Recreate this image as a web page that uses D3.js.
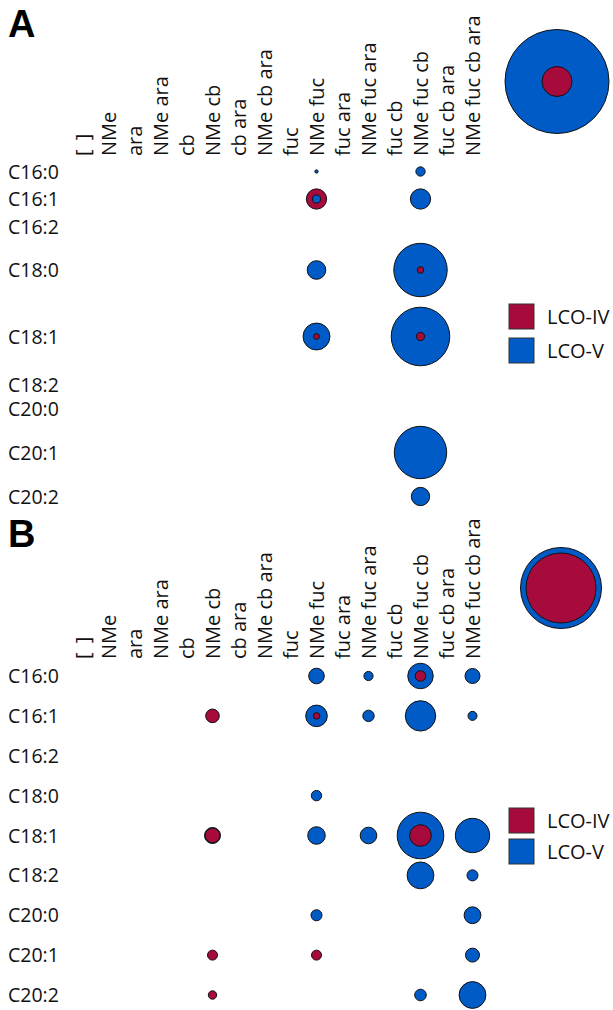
<!DOCTYPE html>
<html><head><meta charset="utf-8">
<script src="https://cdn.jsdelivr.net/npm/d3@7"></script>
<style>
html,body{margin:0;padding:0;background:#fff;}
text{font-family:"Open Sans",sans-serif;fill:#111;}
</style></head>
<body>
<svg id="chart" width="613" height="1010"></svg>
<script>
// ---- data ----
const columns = ["[ ]","NMe","ara","NMe ara","cb","NMe cb","cb ara","NMe cb ara","fuc","NMe fuc","fuc ara","NMe fuc ara","fuc cb","NMe fuc cb","fuc cb ara","NMe fuc cb ara"];
const rows = ["C16:0","C16:1","C16:2","C18:0","C18:1","C18:2","C20:0","C20:1","C20:2"];
const seriesNames = ["LCO-IV","LCO-V"];

// Panel A (relative abundance, bubble area)
const aLcoIV = [
  {row:"C16:1", col:"NMe fuc", v:3.8},
  {row:"C18:0", col:"NMe fuc cb", v:0.4},
  {row:"C18:1", col:"NMe fuc", v:0.3},
  {row:"C18:1", col:"NMe fuc cb", v:0.6}
];
const aLcoV = [
  {row:"C16:0", col:"NMe fuc", v:0.1},
  {row:"C16:0", col:"NMe fuc cb", v:0.8},
  {row:"C16:1", col:"NMe fuc", v:0.6},
  {row:"C16:1", col:"NMe fuc cb", v:3.8},
  {row:"C18:0", col:"NMe fuc", v:3.2},
  {row:"C18:0", col:"NMe fuc cb", v:26.4},
  {row:"C18:1", col:"NMe fuc", v:6.7},
  {row:"C18:1", col:"NMe fuc cb", v:31.7},
  {row:"C20:1", col:"NMe fuc cb", v:25.4},
  {row:"C20:2", col:"NMe fuc cb", v:3.1}
];
const aKey = {LCOIV:8.3, LCOV:100};

// Panel B
const bLcoIV = [
  {row:"C16:0", col:"NMe fuc cb", v:1.04},
  {row:"C16:1", col:"NMe cb", v:1.71},
  {row:"C16:1", col:"NMe fuc", v:0.40},
  {row:"C18:1", col:"NMe cb", v:1.97},
  {row:"C18:1", col:"NMe fuc cb", v:4.31},
  {row:"C20:1", col:"NMe cb", v:0.92},
  {row:"C20:1", col:"NMe fuc", v:0.92},
  {row:"C20:2", col:"NMe cb", v:0.65}
];
const bLcoV = [
  {row:"C16:0", col:"NMe fuc", v:2.25},
  {row:"C16:0", col:"NMe fuc ara", v:0.78},
  {row:"C16:0", col:"NMe fuc cb", v:6.0},
  {row:"C16:0", col:"NMe fuc cb ara", v:2.08},
  {row:"C16:1", col:"NMe fuc", v:4.31},
  {row:"C16:1", col:"NMe fuc ara", v:1.2},
  {row:"C16:1", col:"NMe fuc cb", v:8.54},
  {row:"C16:1", col:"NMe fuc cb ara", v:0.75},
  {row:"C18:0", col:"NMe fuc", v:1.0},
  {row:"C18:1", col:"NMe cb", v:2.37},
  {row:"C18:1", col:"NMe fuc", v:2.86},
  {row:"C18:1", col:"NMe fuc ara", v:2.55},
  {row:"C18:1", col:"NMe fuc cb", v:20.1},
  {row:"C18:1", col:"NMe fuc cb ara", v:10.9},
  {row:"C18:2", col:"NMe fuc cb", v:6.64},
  {row:"C18:2", col:"NMe fuc cb ara", v:1.12},
  {row:"C20:0", col:"NMe fuc", v:1.12},
  {row:"C20:0", col:"NMe fuc cb ara", v:2.61},
  {row:"C20:1", col:"NMe fuc cb ara", v:1.81},
  {row:"C20:2", col:"NMe fuc cb", v:1.24},
  {row:"C20:2", col:"NMe fuc cb ara", v:6.64}
];
const bKey = {LCOIV:45.3, LCOV:60.7};

// ---- layout ----
const colors = {"LCO-IV":"#A60B3C","LCO-V":"#005BC6"};
const svg = d3.select("#chart");
const rScale = d3.scaleSqrt().domain([0,100]).range([0,52]);
const xScale = d3.scalePoint().domain(columns).range([82.5,472.5]);
const color = d3.scaleOrdinal().domain(seriesNames).range([colors["LCO-IV"],colors["LCO-V"]]);

const panels = [
  {label:"A", labelY:37, colLabelY:156,
   y:d3.scaleOrdinal().domain(rows).range([171.5,199,227,270,336.5,385,409,452.5,496.5]),
   iv:aLcoIV, v:aLcoV, key:aKey, keyC:[557,81.5], legY:[304,338]},
  {label:"B", labelY:547, colLabelY:659,
   y:d3.scalePoint().domain(rows).range([676,995]),
   iv:bLcoIV, v:bLcoV, key:bKey, keyC:[561,588], legY:[808,839]}
];

panels.forEach(p=>{
  const g = svg.append("g");
  g.append("text").attr("x",8).attr("y",p.labelY)
    .style("font-family","'Liberation Sans',Arial,sans-serif")
    .style("font-weight","bold").style("font-size","38px").style("fill","#000")
    .text(p.label);
  // column labels
  g.selectAll("text.col").data(columns).join("text").attr("class","col")
    .attr("transform",d=>`translate(${xScale(d)},${p.colLabelY}) rotate(-90)`)
    .attr("dy","0.36em").style("font-size","20px")
    .style("letter-spacing",d=>d==="[ ]"?"2px":null)
    .style("white-space","pre").text(d=>d);
  // row labels
  g.selectAll("text.row").data(rows).join("text").attr("class","row")
    .attr("x",8).attr("y",d=>p.y(d)).attr("dy","0.36em")
    .style("font-size","19.5px").text(d=>d);
  // bubbles
  const all = p.iv.map(d=>({...d,s:"LCO-IV"})).concat(p.v.map(d=>({...d,s:"LCO-V"})))
    .sort((a,b)=>b.v-a.v);
  g.selectAll("circle.b").data(all).join("circle").attr("class","b")
    .attr("cx",d=>xScale(d.col)).attr("cy",d=>p.y(d.row))
    .attr("r",d=>rScale(d.v)).attr("fill",d=>color(d.s))
    .attr("stroke","#111").attr("stroke-width",1);
  // key bubble
  const keyData = [{s:"LCO-IV",v:p.key.LCOIV},{s:"LCO-V",v:p.key.LCOV}].sort((a,b)=>b.v-a.v);
  g.selectAll("circle.k").data(keyData).join("circle").attr("class","k")
    .attr("cx",p.keyC[0]).attr("cy",p.keyC[1]).attr("r",d=>rScale(d.v))
    .attr("fill",d=>color(d.s)).attr("stroke","#111").attr("stroke-width",1);
  // legend
  const lg = g.selectAll("g.leg").data(seriesNames).join("g").attr("class","leg")
    .attr("transform",(d,i)=>`translate(509,${p.legY[i]})`);
  lg.append("rect").attr("width",25).attr("height",25)
    .attr("fill",d=>color(d)).attr("stroke","#333").attr("stroke-width",1);
  lg.append("text").attr("x",38).attr("y",12.5).attr("dy","0.36em")
    .style("font-size","20px").text(d=>d);
});
</script>
</body></html>
